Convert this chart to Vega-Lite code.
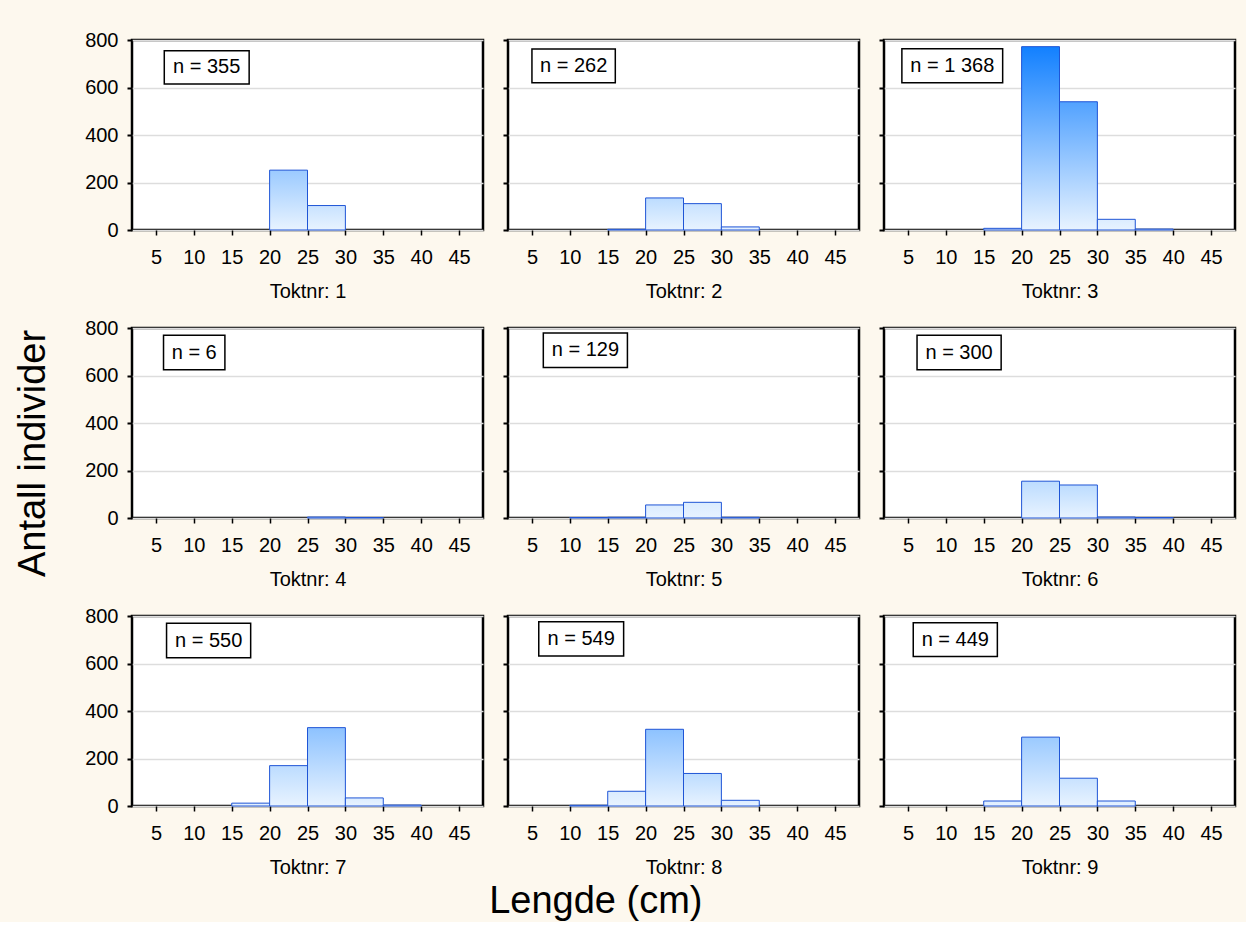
{
  "$schema": "https://vega.github.io/schema/vega-lite/v6.json",
  "background": "#fdf8ee",
  "padding": {"left": 15, "top": 28, "right": 10, "bottom": 0},
  "config": {
    "view": {"fill": "white", "stroke": "black", "strokeWidth": 2.5},
    "font": "Liberation Sans",
    "axis": {"labelFont": "Liberation Sans", "labelFontSize": 20, "labelColor": "black", "tickColor": "black", "titleFont": "Liberation Sans", "titleFontWeight": "normal", "titleFontSize": 20, "titleColor": "black", "domain": false, "labelOverlap": false, "labelFlush": false},
    "axisX": {"grid": false, "tickSize": 5, "tickWidth": 1.5, "labelPadding": 12, "titlePadding": 14},
    "axisY": {"grid": true, "gridColor": "#dddddd", "gridWidth": 1.5, "tickSize": 5, "tickWidth": 2, "labelPadding": 9},
    "title": {"font": "Liberation Sans", "fontWeight": "normal", "color": "black"},
    "concat": {"spacing": 15}
  },
  "datasets": {
    "hist": [
      {"t": 1, "lo": 20, "hi": 25, "count": 252},
      {"t": 1, "lo": 25, "hi": 30, "count": 103},
      {"t": 2, "lo": 15, "hi": 20, "count": 3},
      {"t": 2, "lo": 20, "hi": 25, "count": 135},
      {"t": 2, "lo": 25, "hi": 30, "count": 111},
      {"t": 2, "lo": 30, "hi": 35, "count": 13},
      {"t": 3, "lo": 15, "hi": 20, "count": 7},
      {"t": 3, "lo": 20, "hi": 25, "count": 772},
      {"t": 3, "lo": 25, "hi": 30, "count": 540},
      {"t": 3, "lo": 30, "hi": 35, "count": 45},
      {"t": 3, "lo": 35, "hi": 40, "count": 4},
      {"t": 4, "lo": 25, "hi": 30, "count": 4},
      {"t": 4, "lo": 30, "hi": 35, "count": 2},
      {"t": 5, "lo": 10, "hi": 15, "count": 2},
      {"t": 5, "lo": 15, "hi": 20, "count": 3},
      {"t": 5, "lo": 20, "hi": 25, "count": 55},
      {"t": 5, "lo": 25, "hi": 30, "count": 66},
      {"t": 5, "lo": 30, "hi": 35, "count": 3},
      {"t": 6, "lo": 20, "hi": 25, "count": 155},
      {"t": 6, "lo": 25, "hi": 30, "count": 139},
      {"t": 6, "lo": 30, "hi": 35, "count": 4},
      {"t": 6, "lo": 35, "hi": 40, "count": 2},
      {"t": 7, "lo": 15, "hi": 20, "count": 12},
      {"t": 7, "lo": 20, "hi": 25, "count": 170},
      {"t": 7, "lo": 25, "hi": 30, "count": 330},
      {"t": 7, "lo": 30, "hi": 35, "count": 34},
      {"t": 7, "lo": 35, "hi": 40, "count": 4},
      {"t": 8, "lo": 10, "hi": 15, "count": 3},
      {"t": 8, "lo": 15, "hi": 20, "count": 62},
      {"t": 8, "lo": 20, "hi": 25, "count": 323},
      {"t": 8, "lo": 25, "hi": 30, "count": 137},
      {"t": 8, "lo": 30, "hi": 35, "count": 24},
      {"t": 9, "lo": 15, "hi": 20, "count": 21},
      {"t": 9, "lo": 20, "hi": 25, "count": 290},
      {"t": 9, "lo": 25, "hi": 30, "count": 117},
      {"t": 9, "lo": 30, "hi": 35, "count": 21}
    ]
  },
  "data": {"name": "hist"},
  "title": {"text": "Lengde (cm)", "orient": "bottom", "anchor": "middle", "fontSize": 38, "offset": 5, "dx": -30},
  "vconcat": [
    {
      "title": {"text": "Antall individer", "orient": "left", "anchor": "middle", "fontSize": 38, "offset": 30},
      "spacing": 13,
      "vconcat": [
        {"hconcat": [
          {"width": 351, "height": 190, "layer": [
            {"transform": [{"filter": "datum.t == 1"}], "mark": {"type": "bar", "stroke": "#1f55d6", "strokeWidth": 1, "orient": "vertical"},
             "encoding": {
               "x": {"field": "lo", "type": "quantitative", "scale": {"domain": [2.5, 47.5], "nice": false, "zero": false}, "axis": {"values": [5, 10, 15, 20, 25, 30, 35, 40, 45], "title": "Toktnr: 1"}},
               "x2": {"field": "hi"},
               "y": {"field": "count", "type": "quantitative", "scale": {"domain": [0, 800], "nice": false}, "axis": {"values": [0, 100, 200, 300, 400, 500, 600, 700, 800], "labelExpr": "datum.value % 200 === 0 ? datum.label : ''", "title": null}},
               "y2": {"datum": 0},
               "fill": {"condition": [
                 {"test": "datum.count >= 700", "value": {"gradient": "linear", "x1": 0, "y1": 1, "x2": 0, "y2": 0, "stops": [{"offset": 0, "color": "#e8f3ff"}, {"offset": 1, "color": "#1280ff"}]}},
                 {"test": "datum.count >= 450", "value": {"gradient": "linear", "x1": 0, "y1": 1, "x2": 0, "y2": 0, "stops": [{"offset": 0, "color": "#e8f3ff"}, {"offset": 1, "color": "#52a2ff"}]}},
                 {"test": "datum.count >= 300", "value": {"gradient": "linear", "x1": 0, "y1": 1, "x2": 0, "y2": 0, "stops": [{"offset": 0, "color": "#e8f3ff"}, {"offset": 1, "color": "#8dc2ff"}]}},
                 {"test": "datum.count >= 220", "value": {"gradient": "linear", "x1": 0, "y1": 1, "x2": 0, "y2": 0, "stops": [{"offset": 0, "color": "#e8f3ff"}, {"offset": 1, "color": "#9bcaff"}]}},
                 {"test": "datum.count >= 120", "value": {"gradient": "linear", "x1": 0, "y1": 1, "x2": 0, "y2": 0, "stops": [{"offset": 0, "color": "#e8f3ff"}, {"offset": 1, "color": "#bcdcff"}]}},
                 {"test": "datum.count >= 80", "value": {"gradient": "linear", "x1": 0, "y1": 1, "x2": 0, "y2": 0, "stops": [{"offset": 0, "color": "#e8f3ff"}, {"offset": 1, "color": "#c8e2ff"}]}}
               ], "value": {"gradient": "linear", "x1": 0, "y1": 1, "x2": 0, "y2": 0, "stops": [{"offset": 0, "color": "#e8f3ff"}, {"offset": 1, "color": "#dbecff"}]}}
             }},
            {"data": {"values": [{}]}, "mark": {"type": "rect", "fill": "white", "stroke": "black", "strokeWidth": 1.5},
             "encoding": {"x": {"datum": 6.1, "type": "quantitative"}, "x2": {"datum": 17.3}, "y": {"datum": 755, "type": "quantitative"}, "y2": {"datum": 615}}},
            {"data": {"values": [{}]}, "mark": {"type": "text", "fontSize": 20, "font": "Liberation Sans", "color": "black"},
             "encoding": {"x": {"datum": 11.7, "type": "quantitative"}, "y": {"datum": 685, "type": "quantitative"}, "text": {"value": "n = 355"}}}
          ]},
          {"width": 351, "height": 190, "layer": [
            {"transform": [{"filter": "datum.t == 2"}], "mark": {"type": "bar", "stroke": "#1f55d6", "strokeWidth": 1, "orient": "vertical"},
             "encoding": {
               "x": {"field": "lo", "type": "quantitative", "scale": {"domain": [2.5, 47.5], "nice": false, "zero": false}, "axis": {"values": [5, 10, 15, 20, 25, 30, 35, 40, 45], "title": "Toktnr: 2"}},
               "x2": {"field": "hi"},
               "y": {"field": "count", "type": "quantitative", "scale": {"domain": [0, 800], "nice": false}, "axis": {"values": [0, 100, 200, 300, 400, 500, 600, 700, 800], "labels": false, "title": null}},
               "y2": {"datum": 0},
               "fill": {"condition": [
                 {"test": "datum.count >= 700", "value": {"gradient": "linear", "x1": 0, "y1": 1, "x2": 0, "y2": 0, "stops": [{"offset": 0, "color": "#e8f3ff"}, {"offset": 1, "color": "#1280ff"}]}},
                 {"test": "datum.count >= 450", "value": {"gradient": "linear", "x1": 0, "y1": 1, "x2": 0, "y2": 0, "stops": [{"offset": 0, "color": "#e8f3ff"}, {"offset": 1, "color": "#52a2ff"}]}},
                 {"test": "datum.count >= 300", "value": {"gradient": "linear", "x1": 0, "y1": 1, "x2": 0, "y2": 0, "stops": [{"offset": 0, "color": "#e8f3ff"}, {"offset": 1, "color": "#8dc2ff"}]}},
                 {"test": "datum.count >= 220", "value": {"gradient": "linear", "x1": 0, "y1": 1, "x2": 0, "y2": 0, "stops": [{"offset": 0, "color": "#e8f3ff"}, {"offset": 1, "color": "#9bcaff"}]}},
                 {"test": "datum.count >= 120", "value": {"gradient": "linear", "x1": 0, "y1": 1, "x2": 0, "y2": 0, "stops": [{"offset": 0, "color": "#e8f3ff"}, {"offset": 1, "color": "#bcdcff"}]}},
                 {"test": "datum.count >= 80", "value": {"gradient": "linear", "x1": 0, "y1": 1, "x2": 0, "y2": 0, "stops": [{"offset": 0, "color": "#e8f3ff"}, {"offset": 1, "color": "#c8e2ff"}]}}
               ], "value": {"gradient": "linear", "x1": 0, "y1": 1, "x2": 0, "y2": 0, "stops": [{"offset": 0, "color": "#e8f3ff"}, {"offset": 1, "color": "#dbecff"}]}}
             }},
            {"data": {"values": [{}]}, "mark": {"type": "rect", "fill": "white", "stroke": "black", "strokeWidth": 1.5},
             "encoding": {"x": {"datum": 5.0, "type": "quantitative"}, "x2": {"datum": 16.0}, "y": {"datum": 762, "type": "quantitative"}, "y2": {"datum": 620}}},
            {"data": {"values": [{}]}, "mark": {"type": "text", "fontSize": 20, "font": "Liberation Sans", "color": "black"},
             "encoding": {"x": {"datum": 10.5, "type": "quantitative"}, "y": {"datum": 691, "type": "quantitative"}, "text": {"value": "n = 262"}}}
          ]},
          {"width": 351, "height": 190, "layer": [
            {"transform": [{"filter": "datum.t == 3"}], "mark": {"type": "bar", "stroke": "#1f55d6", "strokeWidth": 1, "orient": "vertical"},
             "encoding": {
               "x": {"field": "lo", "type": "quantitative", "scale": {"domain": [2.5, 47.5], "nice": false, "zero": false}, "axis": {"values": [5, 10, 15, 20, 25, 30, 35, 40, 45], "title": "Toktnr: 3"}},
               "x2": {"field": "hi"},
               "y": {"field": "count", "type": "quantitative", "scale": {"domain": [0, 800], "nice": false}, "axis": {"values": [0, 100, 200, 300, 400, 500, 600, 700, 800], "labels": false, "title": null}},
               "y2": {"datum": 0},
               "fill": {"condition": [
                 {"test": "datum.count >= 700", "value": {"gradient": "linear", "x1": 0, "y1": 1, "x2": 0, "y2": 0, "stops": [{"offset": 0, "color": "#e8f3ff"}, {"offset": 1, "color": "#1280ff"}]}},
                 {"test": "datum.count >= 450", "value": {"gradient": "linear", "x1": 0, "y1": 1, "x2": 0, "y2": 0, "stops": [{"offset": 0, "color": "#e8f3ff"}, {"offset": 1, "color": "#52a2ff"}]}},
                 {"test": "datum.count >= 300", "value": {"gradient": "linear", "x1": 0, "y1": 1, "x2": 0, "y2": 0, "stops": [{"offset": 0, "color": "#e8f3ff"}, {"offset": 1, "color": "#8dc2ff"}]}},
                 {"test": "datum.count >= 220", "value": {"gradient": "linear", "x1": 0, "y1": 1, "x2": 0, "y2": 0, "stops": [{"offset": 0, "color": "#e8f3ff"}, {"offset": 1, "color": "#9bcaff"}]}},
                 {"test": "datum.count >= 120", "value": {"gradient": "linear", "x1": 0, "y1": 1, "x2": 0, "y2": 0, "stops": [{"offset": 0, "color": "#e8f3ff"}, {"offset": 1, "color": "#bcdcff"}]}},
                 {"test": "datum.count >= 80", "value": {"gradient": "linear", "x1": 0, "y1": 1, "x2": 0, "y2": 0, "stops": [{"offset": 0, "color": "#e8f3ff"}, {"offset": 1, "color": "#c8e2ff"}]}}
               ], "value": {"gradient": "linear", "x1": 0, "y1": 1, "x2": 0, "y2": 0, "stops": [{"offset": 0, "color": "#e8f3ff"}, {"offset": 1, "color": "#dbecff"}]}}
             }},
            {"data": {"values": [{}]}, "mark": {"type": "rect", "fill": "white", "stroke": "black", "strokeWidth": 1.5},
             "encoding": {"x": {"datum": 4.2, "type": "quantitative"}, "x2": {"datum": 17.5}, "y": {"datum": 763, "type": "quantitative"}, "y2": {"datum": 620}}},
            {"data": {"values": [{}]}, "mark": {"type": "text", "fontSize": 20, "font": "Liberation Sans", "color": "black"},
             "encoding": {"x": {"datum": 10.85, "type": "quantitative"}, "y": {"datum": 691, "type": "quantitative"}, "text": {"value": "n = 1 368"}}}
          ]}
        ]},
        {"hconcat": [
          {"width": 351, "height": 190, "layer": [
            {"transform": [{"filter": "datum.t == 4"}], "mark": {"type": "bar", "stroke": "#1f55d6", "strokeWidth": 1, "orient": "vertical"},
             "encoding": {
               "x": {"field": "lo", "type": "quantitative", "scale": {"domain": [2.5, 47.5], "nice": false, "zero": false}, "axis": {"values": [5, 10, 15, 20, 25, 30, 35, 40, 45], "title": "Toktnr: 4"}},
               "x2": {"field": "hi"},
               "y": {"field": "count", "type": "quantitative", "scale": {"domain": [0, 800], "nice": false}, "axis": {"values": [0, 100, 200, 300, 400, 500, 600, 700, 800], "labelExpr": "datum.value % 200 === 0 ? datum.label : ''", "title": null}},
               "y2": {"datum": 0},
               "fill": {"condition": [
                 {"test": "datum.count >= 700", "value": {"gradient": "linear", "x1": 0, "y1": 1, "x2": 0, "y2": 0, "stops": [{"offset": 0, "color": "#e8f3ff"}, {"offset": 1, "color": "#1280ff"}]}},
                 {"test": "datum.count >= 450", "value": {"gradient": "linear", "x1": 0, "y1": 1, "x2": 0, "y2": 0, "stops": [{"offset": 0, "color": "#e8f3ff"}, {"offset": 1, "color": "#52a2ff"}]}},
                 {"test": "datum.count >= 300", "value": {"gradient": "linear", "x1": 0, "y1": 1, "x2": 0, "y2": 0, "stops": [{"offset": 0, "color": "#e8f3ff"}, {"offset": 1, "color": "#8dc2ff"}]}},
                 {"test": "datum.count >= 220", "value": {"gradient": "linear", "x1": 0, "y1": 1, "x2": 0, "y2": 0, "stops": [{"offset": 0, "color": "#e8f3ff"}, {"offset": 1, "color": "#9bcaff"}]}},
                 {"test": "datum.count >= 120", "value": {"gradient": "linear", "x1": 0, "y1": 1, "x2": 0, "y2": 0, "stops": [{"offset": 0, "color": "#e8f3ff"}, {"offset": 1, "color": "#bcdcff"}]}},
                 {"test": "datum.count >= 80", "value": {"gradient": "linear", "x1": 0, "y1": 1, "x2": 0, "y2": 0, "stops": [{"offset": 0, "color": "#e8f3ff"}, {"offset": 1, "color": "#c8e2ff"}]}}
               ], "value": {"gradient": "linear", "x1": 0, "y1": 1, "x2": 0, "y2": 0, "stops": [{"offset": 0, "color": "#e8f3ff"}, {"offset": 1, "color": "#dbecff"}]}}
             }},
            {"data": {"values": [{}]}, "mark": {"type": "rect", "fill": "white", "stroke": "black", "strokeWidth": 1.5},
             "encoding": {"x": {"datum": 6.0, "type": "quantitative"}, "x2": {"datum": 14.1}, "y": {"datum": 769, "type": "quantitative"}, "y2": {"datum": 624}}},
            {"data": {"values": [{}]}, "mark": {"type": "text", "fontSize": 20, "font": "Liberation Sans", "color": "black"},
             "encoding": {"x": {"datum": 10.05, "type": "quantitative"}, "y": {"datum": 696, "type": "quantitative"}, "text": {"value": "n = 6"}}}
          ]},
          {"width": 351, "height": 190, "layer": [
            {"transform": [{"filter": "datum.t == 5"}], "mark": {"type": "bar", "stroke": "#1f55d6", "strokeWidth": 1, "orient": "vertical"},
             "encoding": {
               "x": {"field": "lo", "type": "quantitative", "scale": {"domain": [2.5, 47.5], "nice": false, "zero": false}, "axis": {"values": [5, 10, 15, 20, 25, 30, 35, 40, 45], "title": "Toktnr: 5"}},
               "x2": {"field": "hi"},
               "y": {"field": "count", "type": "quantitative", "scale": {"domain": [0, 800], "nice": false}, "axis": {"values": [0, 100, 200, 300, 400, 500, 600, 700, 800], "labels": false, "title": null}},
               "y2": {"datum": 0},
               "fill": {"condition": [
                 {"test": "datum.count >= 700", "value": {"gradient": "linear", "x1": 0, "y1": 1, "x2": 0, "y2": 0, "stops": [{"offset": 0, "color": "#e8f3ff"}, {"offset": 1, "color": "#1280ff"}]}},
                 {"test": "datum.count >= 450", "value": {"gradient": "linear", "x1": 0, "y1": 1, "x2": 0, "y2": 0, "stops": [{"offset": 0, "color": "#e8f3ff"}, {"offset": 1, "color": "#52a2ff"}]}},
                 {"test": "datum.count >= 300", "value": {"gradient": "linear", "x1": 0, "y1": 1, "x2": 0, "y2": 0, "stops": [{"offset": 0, "color": "#e8f3ff"}, {"offset": 1, "color": "#8dc2ff"}]}},
                 {"test": "datum.count >= 220", "value": {"gradient": "linear", "x1": 0, "y1": 1, "x2": 0, "y2": 0, "stops": [{"offset": 0, "color": "#e8f3ff"}, {"offset": 1, "color": "#9bcaff"}]}},
                 {"test": "datum.count >= 120", "value": {"gradient": "linear", "x1": 0, "y1": 1, "x2": 0, "y2": 0, "stops": [{"offset": 0, "color": "#e8f3ff"}, {"offset": 1, "color": "#bcdcff"}]}},
                 {"test": "datum.count >= 80", "value": {"gradient": "linear", "x1": 0, "y1": 1, "x2": 0, "y2": 0, "stops": [{"offset": 0, "color": "#e8f3ff"}, {"offset": 1, "color": "#c8e2ff"}]}}
               ], "value": {"gradient": "linear", "x1": 0, "y1": 1, "x2": 0, "y2": 0, "stops": [{"offset": 0, "color": "#e8f3ff"}, {"offset": 1, "color": "#dbecff"}]}}
             }},
            {"data": {"values": [{}]}, "mark": {"type": "rect", "fill": "white", "stroke": "black", "strokeWidth": 1.5},
             "encoding": {"x": {"datum": 6.5, "type": "quantitative"}, "x2": {"datum": 17.6}, "y": {"datum": 779, "type": "quantitative"}, "y2": {"datum": 634}}},
            {"data": {"values": [{}]}, "mark": {"type": "text", "fontSize": 20, "font": "Liberation Sans", "color": "black"},
             "encoding": {"x": {"datum": 12.05, "type": "quantitative"}, "y": {"datum": 706, "type": "quantitative"}, "text": {"value": "n = 129"}}}
          ]},
          {"width": 351, "height": 190, "layer": [
            {"transform": [{"filter": "datum.t == 6"}], "mark": {"type": "bar", "stroke": "#1f55d6", "strokeWidth": 1, "orient": "vertical"},
             "encoding": {
               "x": {"field": "lo", "type": "quantitative", "scale": {"domain": [2.5, 47.5], "nice": false, "zero": false}, "axis": {"values": [5, 10, 15, 20, 25, 30, 35, 40, 45], "title": "Toktnr: 6"}},
               "x2": {"field": "hi"},
               "y": {"field": "count", "type": "quantitative", "scale": {"domain": [0, 800], "nice": false}, "axis": {"values": [0, 100, 200, 300, 400, 500, 600, 700, 800], "labels": false, "title": null}},
               "y2": {"datum": 0},
               "fill": {"condition": [
                 {"test": "datum.count >= 700", "value": {"gradient": "linear", "x1": 0, "y1": 1, "x2": 0, "y2": 0, "stops": [{"offset": 0, "color": "#e8f3ff"}, {"offset": 1, "color": "#1280ff"}]}},
                 {"test": "datum.count >= 450", "value": {"gradient": "linear", "x1": 0, "y1": 1, "x2": 0, "y2": 0, "stops": [{"offset": 0, "color": "#e8f3ff"}, {"offset": 1, "color": "#52a2ff"}]}},
                 {"test": "datum.count >= 300", "value": {"gradient": "linear", "x1": 0, "y1": 1, "x2": 0, "y2": 0, "stops": [{"offset": 0, "color": "#e8f3ff"}, {"offset": 1, "color": "#8dc2ff"}]}},
                 {"test": "datum.count >= 220", "value": {"gradient": "linear", "x1": 0, "y1": 1, "x2": 0, "y2": 0, "stops": [{"offset": 0, "color": "#e8f3ff"}, {"offset": 1, "color": "#9bcaff"}]}},
                 {"test": "datum.count >= 120", "value": {"gradient": "linear", "x1": 0, "y1": 1, "x2": 0, "y2": 0, "stops": [{"offset": 0, "color": "#e8f3ff"}, {"offset": 1, "color": "#bcdcff"}]}},
                 {"test": "datum.count >= 80", "value": {"gradient": "linear", "x1": 0, "y1": 1, "x2": 0, "y2": 0, "stops": [{"offset": 0, "color": "#e8f3ff"}, {"offset": 1, "color": "#c8e2ff"}]}}
               ], "value": {"gradient": "linear", "x1": 0, "y1": 1, "x2": 0, "y2": 0, "stops": [{"offset": 0, "color": "#e8f3ff"}, {"offset": 1, "color": "#dbecff"}]}}
             }},
            {"data": {"values": [{}]}, "mark": {"type": "rect", "fill": "white", "stroke": "black", "strokeWidth": 1.5},
             "encoding": {"x": {"datum": 6.2, "type": "quantitative"}, "x2": {"datum": 17.3}, "y": {"datum": 769, "type": "quantitative"}, "y2": {"datum": 624}}},
            {"data": {"values": [{}]}, "mark": {"type": "text", "fontSize": 20, "font": "Liberation Sans", "color": "black"},
             "encoding": {"x": {"datum": 11.75, "type": "quantitative"}, "y": {"datum": 696, "type": "quantitative"}, "text": {"value": "n = 300"}}}
          ]}
        ]},
        {"hconcat": [
          {"width": 351, "height": 190, "layer": [
            {"transform": [{"filter": "datum.t == 7"}], "mark": {"type": "bar", "stroke": "#1f55d6", "strokeWidth": 1, "orient": "vertical"},
             "encoding": {
               "x": {"field": "lo", "type": "quantitative", "scale": {"domain": [2.5, 47.5], "nice": false, "zero": false}, "axis": {"values": [5, 10, 15, 20, 25, 30, 35, 40, 45], "title": "Toktnr: 7"}},
               "x2": {"field": "hi"},
               "y": {"field": "count", "type": "quantitative", "scale": {"domain": [0, 800], "nice": false}, "axis": {"values": [0, 100, 200, 300, 400, 500, 600, 700, 800], "labelExpr": "datum.value % 200 === 0 ? datum.label : ''", "title": null}},
               "y2": {"datum": 0},
               "fill": {"condition": [
                 {"test": "datum.count >= 700", "value": {"gradient": "linear", "x1": 0, "y1": 1, "x2": 0, "y2": 0, "stops": [{"offset": 0, "color": "#e8f3ff"}, {"offset": 1, "color": "#1280ff"}]}},
                 {"test": "datum.count >= 450", "value": {"gradient": "linear", "x1": 0, "y1": 1, "x2": 0, "y2": 0, "stops": [{"offset": 0, "color": "#e8f3ff"}, {"offset": 1, "color": "#52a2ff"}]}},
                 {"test": "datum.count >= 300", "value": {"gradient": "linear", "x1": 0, "y1": 1, "x2": 0, "y2": 0, "stops": [{"offset": 0, "color": "#e8f3ff"}, {"offset": 1, "color": "#8dc2ff"}]}},
                 {"test": "datum.count >= 220", "value": {"gradient": "linear", "x1": 0, "y1": 1, "x2": 0, "y2": 0, "stops": [{"offset": 0, "color": "#e8f3ff"}, {"offset": 1, "color": "#9bcaff"}]}},
                 {"test": "datum.count >= 120", "value": {"gradient": "linear", "x1": 0, "y1": 1, "x2": 0, "y2": 0, "stops": [{"offset": 0, "color": "#e8f3ff"}, {"offset": 1, "color": "#bcdcff"}]}},
                 {"test": "datum.count >= 80", "value": {"gradient": "linear", "x1": 0, "y1": 1, "x2": 0, "y2": 0, "stops": [{"offset": 0, "color": "#e8f3ff"}, {"offset": 1, "color": "#c8e2ff"}]}}
               ], "value": {"gradient": "linear", "x1": 0, "y1": 1, "x2": 0, "y2": 0, "stops": [{"offset": 0, "color": "#e8f3ff"}, {"offset": 1, "color": "#dbecff"}]}}
             }},
            {"data": {"values": [{}]}, "mark": {"type": "rect", "fill": "white", "stroke": "black", "strokeWidth": 1.5},
             "encoding": {"x": {"datum": 6.4, "type": "quantitative"}, "x2": {"datum": 17.5}, "y": {"datum": 769, "type": "quantitative"}, "y2": {"datum": 624}}},
            {"data": {"values": [{}]}, "mark": {"type": "text", "fontSize": 20, "font": "Liberation Sans", "color": "black"},
             "encoding": {"x": {"datum": 11.95, "type": "quantitative"}, "y": {"datum": 696, "type": "quantitative"}, "text": {"value": "n = 550"}}}
          ]},
          {"width": 351, "height": 190, "layer": [
            {"transform": [{"filter": "datum.t == 8"}], "mark": {"type": "bar", "stroke": "#1f55d6", "strokeWidth": 1, "orient": "vertical"},
             "encoding": {
               "x": {"field": "lo", "type": "quantitative", "scale": {"domain": [2.5, 47.5], "nice": false, "zero": false}, "axis": {"values": [5, 10, 15, 20, 25, 30, 35, 40, 45], "title": "Toktnr: 8"}},
               "x2": {"field": "hi"},
               "y": {"field": "count", "type": "quantitative", "scale": {"domain": [0, 800], "nice": false}, "axis": {"values": [0, 100, 200, 300, 400, 500, 600, 700, 800], "labels": false, "title": null}},
               "y2": {"datum": 0},
               "fill": {"condition": [
                 {"test": "datum.count >= 700", "value": {"gradient": "linear", "x1": 0, "y1": 1, "x2": 0, "y2": 0, "stops": [{"offset": 0, "color": "#e8f3ff"}, {"offset": 1, "color": "#1280ff"}]}},
                 {"test": "datum.count >= 450", "value": {"gradient": "linear", "x1": 0, "y1": 1, "x2": 0, "y2": 0, "stops": [{"offset": 0, "color": "#e8f3ff"}, {"offset": 1, "color": "#52a2ff"}]}},
                 {"test": "datum.count >= 300", "value": {"gradient": "linear", "x1": 0, "y1": 1, "x2": 0, "y2": 0, "stops": [{"offset": 0, "color": "#e8f3ff"}, {"offset": 1, "color": "#8dc2ff"}]}},
                 {"test": "datum.count >= 220", "value": {"gradient": "linear", "x1": 0, "y1": 1, "x2": 0, "y2": 0, "stops": [{"offset": 0, "color": "#e8f3ff"}, {"offset": 1, "color": "#9bcaff"}]}},
                 {"test": "datum.count >= 120", "value": {"gradient": "linear", "x1": 0, "y1": 1, "x2": 0, "y2": 0, "stops": [{"offset": 0, "color": "#e8f3ff"}, {"offset": 1, "color": "#bcdcff"}]}},
                 {"test": "datum.count >= 80", "value": {"gradient": "linear", "x1": 0, "y1": 1, "x2": 0, "y2": 0, "stops": [{"offset": 0, "color": "#e8f3ff"}, {"offset": 1, "color": "#c8e2ff"}]}}
               ], "value": {"gradient": "linear", "x1": 0, "y1": 1, "x2": 0, "y2": 0, "stops": [{"offset": 0, "color": "#e8f3ff"}, {"offset": 1, "color": "#dbecff"}]}}
             }},
            {"data": {"values": [{}]}, "mark": {"type": "rect", "fill": "white", "stroke": "black", "strokeWidth": 1.5},
             "encoding": {"x": {"datum": 5.9, "type": "quantitative"}, "x2": {"datum": 17.1}, "y": {"datum": 776, "type": "quantitative"}, "y2": {"datum": 632}}},
            {"data": {"values": [{}]}, "mark": {"type": "text", "fontSize": 20, "font": "Liberation Sans", "color": "black"},
             "encoding": {"x": {"datum": 11.5, "type": "quantitative"}, "y": {"datum": 704, "type": "quantitative"}, "text": {"value": "n = 549"}}}
          ]},
          {"width": 351, "height": 190, "layer": [
            {"transform": [{"filter": "datum.t == 9"}], "mark": {"type": "bar", "stroke": "#1f55d6", "strokeWidth": 1, "orient": "vertical"},
             "encoding": {
               "x": {"field": "lo", "type": "quantitative", "scale": {"domain": [2.5, 47.5], "nice": false, "zero": false}, "axis": {"values": [5, 10, 15, 20, 25, 30, 35, 40, 45], "title": "Toktnr: 9"}},
               "x2": {"field": "hi"},
               "y": {"field": "count", "type": "quantitative", "scale": {"domain": [0, 800], "nice": false}, "axis": {"values": [0, 100, 200, 300, 400, 500, 600, 700, 800], "labels": false, "title": null}},
               "y2": {"datum": 0},
               "fill": {"condition": [
                 {"test": "datum.count >= 700", "value": {"gradient": "linear", "x1": 0, "y1": 1, "x2": 0, "y2": 0, "stops": [{"offset": 0, "color": "#e8f3ff"}, {"offset": 1, "color": "#1280ff"}]}},
                 {"test": "datum.count >= 450", "value": {"gradient": "linear", "x1": 0, "y1": 1, "x2": 0, "y2": 0, "stops": [{"offset": 0, "color": "#e8f3ff"}, {"offset": 1, "color": "#52a2ff"}]}},
                 {"test": "datum.count >= 300", "value": {"gradient": "linear", "x1": 0, "y1": 1, "x2": 0, "y2": 0, "stops": [{"offset": 0, "color": "#e8f3ff"}, {"offset": 1, "color": "#8dc2ff"}]}},
                 {"test": "datum.count >= 220", "value": {"gradient": "linear", "x1": 0, "y1": 1, "x2": 0, "y2": 0, "stops": [{"offset": 0, "color": "#e8f3ff"}, {"offset": 1, "color": "#9bcaff"}]}},
                 {"test": "datum.count >= 120", "value": {"gradient": "linear", "x1": 0, "y1": 1, "x2": 0, "y2": 0, "stops": [{"offset": 0, "color": "#e8f3ff"}, {"offset": 1, "color": "#bcdcff"}]}},
                 {"test": "datum.count >= 80", "value": {"gradient": "linear", "x1": 0, "y1": 1, "x2": 0, "y2": 0, "stops": [{"offset": 0, "color": "#e8f3ff"}, {"offset": 1, "color": "#c8e2ff"}]}}
               ], "value": {"gradient": "linear", "x1": 0, "y1": 1, "x2": 0, "y2": 0, "stops": [{"offset": 0, "color": "#e8f3ff"}, {"offset": 1, "color": "#dbecff"}]}}
             }},
            {"data": {"values": [{}]}, "mark": {"type": "rect", "fill": "white", "stroke": "black", "strokeWidth": 1.5},
             "encoding": {"x": {"datum": 5.7, "type": "quantitative"}, "x2": {"datum": 16.8}, "y": {"datum": 772, "type": "quantitative"}, "y2": {"datum": 629}}},
            {"data": {"values": [{}]}, "mark": {"type": "text", "fontSize": 20, "font": "Liberation Sans", "color": "black"},
             "encoding": {"x": {"datum": 11.25, "type": "quantitative"}, "y": {"datum": 700, "type": "quantitative"}, "text": {"value": "n = 449"}}}
          ]}
        ]}
      ]
    }
  ]
}
